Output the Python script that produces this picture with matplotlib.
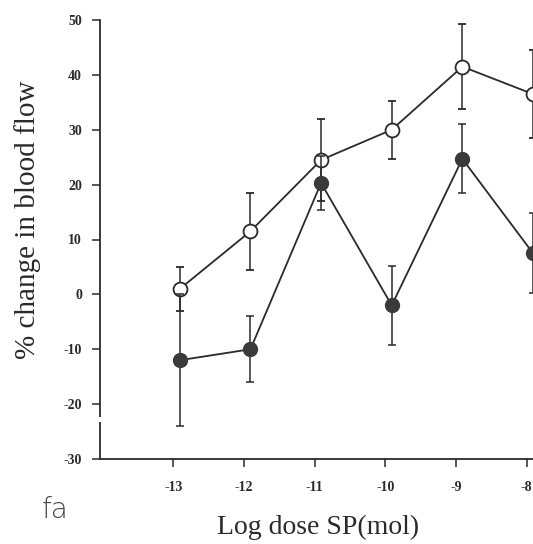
import matplotlib.pyplot as plt
import numpy as np

# log dose SP (mol)
doses = [-13, -12, -11, -10, -9, -8]

# open circles
open_mean = [1.0, 11.5, 24.5, 30.0, 41.5, 36.5]
open_err = [4.0, 7.0, 7.5, 5.3, 7.7, 8.0]

# filled circles
filled_mean = [-12.0, -10.0, 20.3, -2.0, 24.7, 7.5]
filled_err = [12.0, 6.0, 5.0, 7.2, 6.3, 7.3]

yticks = [-30, -20, -10, 0, 10, 20, 30, 40, 50]

W, H = 533, 544
fig = plt.figure(figsize=(W / 100, H / 100), dpi=100)
ax = fig.add_axes([100 / W, (H - 459) / H, 433 / W, 439 / H])

ink = "#2a2a2a"

ax.errorbar(doses, open_mean, yerr=open_err, color=ink, lw=1.3, elinewidth=1.1,
            capsize=3, capthick=1.1, marker="o", ms=10, mfc="white", mec=ink,
            mew=1.3, clip_on=False, zorder=3)
ax.errorbar(doses, filled_mean, yerr=filled_err, color=ink, lw=1.3, elinewidth=1.1,
            capsize=3, capthick=1.1, marker="o", ms=10, mfc="#3a3a3a", mec="#3a3a3a",
            clip_on=False, zorder=4)

xmin = -14.13
ax.set_xlim(xmin, -8.0)
ax.set_ylim(-30, 50)

# small break in the y axis line below -20
ax.plot([xmin, xmin], [-22.3, -23.3], color="white", lw=3, solid_capstyle="butt",
        clip_on=False, zorder=6)

tick_font = {"family": "Liberation Serif", "weight": "bold", "size": 10}
ax.set_xticks(np.array(doses) - 0.09)
ax.set_xticklabels([str(d) for d in doses], fontdict=tick_font)
ax.set_yticks(yticks)
ax.set_yticklabels([str(v) for v in yticks], fontdict=tick_font)
ax.tick_params(axis="x", direction="out", length=6, width=1.1, pad=10, colors=ink)
ax.tick_params(axis="y", direction="out", length=6, width=1.1, pad=7, colors=ink)

for s in ["top", "right"]:
    ax.spines[s].set_visible(False)
for s in ["left", "bottom"]:
    ax.spines[s].set_linewidth(1.3)
    ax.spines[s].set_color(ink)

fig.text(318 / W, 1 - 527 / H, "Log dose SP(mol)", ha="center", va="center",
         family="Liberation Serif", size=20, color=ink)
fig.text(28 / W, 1 - 220 / H, "% change in blood flow", ha="center", va="center",
         rotation=90, family="Liberation Serif", size=21, color=ink)
fig.text(55 / W, 1 - 510 / H, "fa", ha="center", va="center",
         family="DejaVu Sans", weight="light", size=20, color="#444444")

fig.savefig("out.png", dpi=100)
